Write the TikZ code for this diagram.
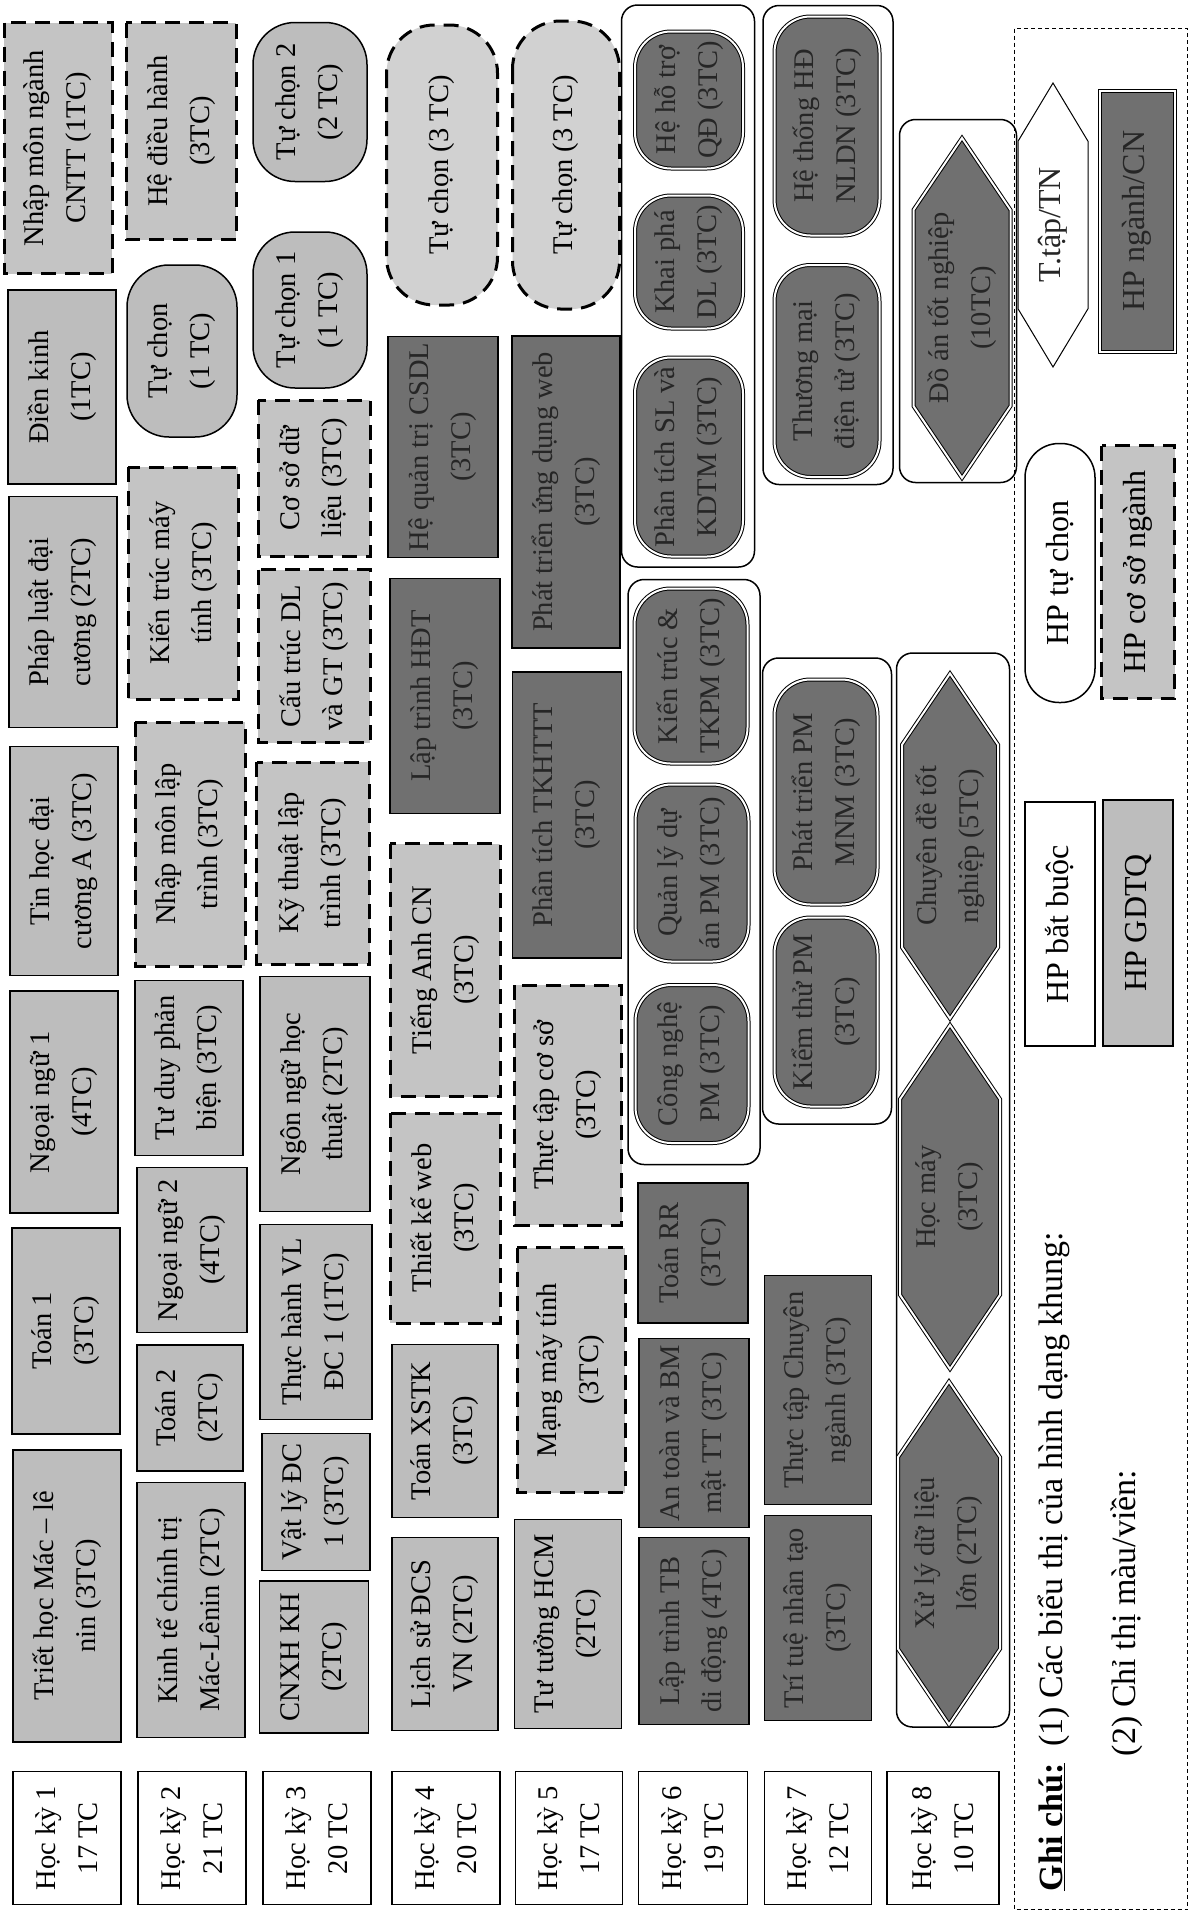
\documentclass[tikz,border=0pt]{standalone}
\usepackage{fontspec}
\setmainfont{Liberation Serif}
\usetikzlibrary{shapes.symbols}

\definecolor{gdtqgray}{gray}{0.74}
\definecolor{csngray}{gray}{0.77}
\definecolor{tcgray}{gray}{0.82}
\definecolor{nganhgray}{gray}{0.44}

\begin{document}
\begin{tikzpicture}[
  x=1pt, y=-1pt,
  every node/.style={rotate=90, align=center, inner sep=2pt, outer sep=0pt, font=\fontsize{28.5}{42}\selectfont},
  sz/.style 2 args={minimum width=#1, minimum height=#2},
  hocky/.style={rectangle, draw, line width=1.5pt, fill=white},
  gdtq/.style={rectangle, draw, line width=1.5pt, fill=gdtqgray},
  csn/.style={rectangle, draw, line width=3pt, dash pattern=on 15pt off 9pt, fill=csngray},
  nganh/.style={rectangle, draw, line width=1.5pt, fill=nganhgray, text=black!85},
  tuchon/.style={rectangle, draw, line width=1.5pt, rounded corners=42pt, fill=gdtqgray},
  tuchoncsn/.style={csn, rounded corners=48pt, fill=tcgray},
  tuchonnganh/.style={rectangle, draw, line width=1pt, double=white, double distance=2pt, rounded corners=36pt, fill=nganhgray, text=black!85},
  nhom/.style={rectangle, draw, line width=1.5pt, rounded corners=16pt, fill=white},
  tttn/.style={signal, signal to=east and west, signal pointer angle=68, draw, line width=1pt, double=white, double distance=2pt, fill=nganhgray, text=black!85},
  legend/.style={font=\fontsize{32}{38}\selectfont},
]
\path[use as bounding box, fill=white] (0,0) rectangle (1192,1928);

% === Hoc ky 1 ===
\node[csn, sz={251}{108}] (nmcntt) at (58,148) {Nhập môn ngành\\CNTT (1TC)};
\node[gdtq, sz={194}{108}] (dienkinh) at (62,387) {Điền kinh\\(1TC)};
\node[gdtq, sz={231}{108}] (phapluat) at (63,612) {Pháp luật đại\\cương (2TC)};
\node[gdtq, sz={229}{108}] (tinhoc) at (64,861) {Tin học đại\\cương A (3TC)};
\node[gdtq, sz={222}{108}] (ngoaingu1) at (64,1102) {Ngoại ngữ 1\\(4TC)};
\node[gdtq, sz={206}{108}] (toan1) at (66,1331) {Toán 1\\(3TC)};
\node[gdtq, sz={292}{108}] (triet) at (67,1596) {Triết học Mác – lê\\nin (3TC)};
\node[hocky, sz={133}{108}] (hk1) at (67,1838) {Học kỳ 1\\17 TC};

% === Hoc ky 2 ===
\node[csn, sz={217}{110}] (hdh) at (181,131) {Hệ điều hành\\(3TC)};
\node[tuchon, sz={172}{110}] (tuchonA) at (182,351) {Tự chọn\\(1 TC)};
\node[csn, sz={232}{110}] (ktmt) at (183,583) {Kiến trúc máy\\tính (3TC)};
\node[csn, sz={244}{110}] (nmlt) at (190,844) {Nhập môn lập\\trình (3TC)};
\node[gdtq, sz={175}{108}] (tdpb) at (189,1068) {Tư duy phản\\biện (3TC)};
\node[gdtq, sz={165}{110}] (ngoaingu2) at (192,1250) {Ngoại ngữ 2\\(4TC)};
\node[gdtq, sz={126}{106}] (toan2) at (190,1408) {Toán 2\\(2TC)};
\node[gdtq, sz={255}{108}] (ktct) at (191,1610) {Kinh tế chính trị\\Mác-Lênin (2TC)};
\node[hocky, sz={133}{108}] (hk2) at (192,1838) {Học kỳ 2\\21 TC};

% === Hoc ky 3 ===
\node[tuchon, sz={159}{114}] (tuchon2) at (310,102) {Tự chọn 2\\(2 TC)};
\node[tuchon, sz={156}{114}] (tuchon1) at (310,310) {Tự chọn 1\\(1 TC)};
\node[csn, sz={156}{112}] (csdl) at (314,478) {Cơ sở dữ\\liệu (3TC)};
\node[csn, sz={173}{112}] (ctdl) at (314,656) {Cấu trúc DL\\và GT (3TC)};
\node[csn, sz={202}{113}] (ktlt) at (313,863) {Kỹ thuật lập\\trình (3TC)};
\node[gdtq, sz={235}{110}] (nnht) at (315,1094) {Ngôn ngữ học\\thuật (2TC)};
\node[gdtq, sz={195}{112}] (thvl) at (316,1322) {Thực hành VL\\ĐC 1 (1TC)};
\node[gdtq, sz={137}{108}] (vldc) at (316,1502) {Vật lý ĐC\\1 (3TC)};
\node[gdtq, sz={152}{109}] (cnxh) at (314,1657) {CNXH KH\\(2TC)};
\node[hocky, sz={133}{108}] (hk3) at (317,1838) {Học kỳ 3\\20 TC};

% === Hoc ky 4 ===
\node[tuchoncsn, sz={280}{111}] (tuchonB) at (442,165) {Tự chọn (3 TC)};
\node[nganh, sz={221}{110}] (hqtcsdl) at (443,447) {Hệ quản trị CSDL\\(3TC)};
\node[nganh, sz={235}{110}] (lthdt) at (445,696) {Lập trình HĐT\\(3TC)};
\node[csn, sz={253}{110}] (tacn) at (445,970) {Tiếng Anh CN\\(3TC)};
\node[csn, sz={210}{110}] (tkweb) at (445,1218) {Thiết kế web\\(3TC)};
\node[gdtq, sz={173}{106}] (xstk) at (445,1431) {Toán XSTK\\(3TC)};
\node[gdtq, sz={193}{106}] (lsdcs) at (445,1634) {Lịch sử ĐCS\\VN (2TC)};
\node[hocky, sz={133}{108}] (hk4) at (446,1838) {Học kỳ 4\\20 TC};

% === Hoc ky 5 ===
\node[tuchoncsn, sz={288}{107}] (tuchonC) at (566,165) {Tự chọn (3 TC)};
\node[nganh, sz={312}{108}] (ptudweb) at (566,492) {Phát triển ứng dụng web\\(3TC)};
\node[nganh, sz={286}{109}] (pttk) at (567,815) {Phân tích TKHTTT\\(3TC)};
\node[csn, sz={240}{107}] (ttcs) at (568,1105) {Thực tập cơ sở\\(3TC)};
\node[csn, sz={245}{108}] (mmt) at (571,1370) {Mạng máy tính\\(3TC)};
\node[gdtq, sz={209}{107}] (tthcm) at (568,1624) {Tư tưởng HCM\\(2TC)};
\node[hocky, sz={133}{107}] (hk5) at (569,1838) {Học kỳ 5\\17 TC};

% === Hoc ky 6 ===
\node[nhom, sz={562}{133}] (nhomA) at (688,286) {};
\node[tuchonnganh, sz={137}{108}] (hhtqd) at (689,100) {Hệ hỗ trợ\\QĐ (3TC)};
\node[tuchonnganh, sz={133}{108}] (kpdl) at (689,262) {Khai phá\\DL (3TC)};
\node[tuchonnganh, sz={199}{108}] (ptsl) at (689,457) {Phân tích SL và\\KDTM (3TC)};
\node[nhom, sz={585}{132}] (nhomB) at (694,872) {};
\node[tuchonnganh, sz={175}{113}] (kttk) at (691,676) {Kiến trúc \&\\TKPM (3TC)};
\node[tuchonnganh, sz={177}{113}] (qlda) at (692,873) {Quản lý dự\\án PM (3TC)};
\node[tuchonnganh, sz={158}{113}] (cnpm) at (692,1064) {Công nghệ\\PM (3TC)};
\node[nganh, sz={140}{110}] (toanrr) at (693,1253) {Toán RR\\(3TC)};
\node[nganh, sz={189}{110}] (attt) at (694,1433) {An toàn và BM\\mật TT (3TC)};
\node[nganh, sz={187}{110}] (ltdd) at (694,1631) {Lập trình TB\\di động (4TC)};
\node[hocky, sz={133}{109}] (hk6) at (693,1838) {Học kỳ 6\\19 TC};

% === Hoc ky 7 ===
\node[nhom, sz={479}{130}] (nhomC) at (828,245) {};
\node[tuchonnganh, sz={219}{105}] (htnldn) at (827,126) {Hệ thống HĐ\\NLDN (3TC)};
\node[tuchonnganh, sz={212}{105}] (tmdt) at (827,371) {Thương mại\\điện tử (3TC)};
\node[nhom, sz={466}{129}] (nhomD) at (827,891) {};
\node[tuchonnganh, sz={225}{103}] (ptpm) at (826,792) {Phát triển PM\\MNM (3TC)};
\node[tuchonnganh, sz={189}{103}] (ktpm) at (826,1012) {Kiểm thử PM\\(3TC)};
\node[nganh, sz={229}{107}] (ttcn) at (818,1390) {Thực tập Chuyên\\ngành (3TC)};
\node[nganh, sz={205}{107}] (ttnt) at (818,1618) {Trí tuệ nhân tạo\\(3TC)};
\node[hocky, sz={133}{107}] (hk7) at (818,1838) {Học kỳ 7\\12 TC};

% === Hoc ky 8 ===
\node[nhom, sz={363}{117}] (nhomE) at (958,301) {};
\node[tttn, sz={340}{97}] (datn) at (962,308) {Đồ án tốt nghiệp\\(10TC)};
\node[nhom, sz={1074}{113}] (nhomF) at (953,1190) {};
\node[tttn, sz={345}{96}] (cdtn) at (950,846) {Chuyên đề tốt\\nghiệp (5TC)};
\node[tttn, sz={344}{100}] (hocmay) at (950,1197) {Học máy\\(3TC)};
\node[tttn, sz={343}{102}] (xldl) at (949,1553) {Xử lý dữ liệu\\lớn (2TC)};
\node[hocky, sz={133}{112}] (hk8) at (943,1838) {Học kỳ 8\\10 TC};

% === Ghi chu ===
\node[draw, line width=1.5pt, dash pattern=on 4pt off 3pt, sz={1881}{173}] (chuthich) at (1101,969) {};
\node[legend, font=\fontsize{34}{40}\selectfont, anchor=west] (ghichu) at (1054,1893) {\underline{\textbf{Ghi chú:}}\ \ (1) Các biểu thị của hình dạng khung:};
\node[legend, font=\fontsize{34}{40}\selectfont, anchor=west] (mauvien) at (1127,1758) {(2) Chỉ thị màu/viền:};
\node[legend, hocky, sz={244}{70}] (hpbb) at (1060,924) {HP bắt buộc};
\node[legend, gdtq, sz={246}{70}] (hpgdtq) at (1138,923) {HP GDTQ};
\node[legend, hocky, rounded corners=34pt, sz={259}{70}] (hptc) at (1060,573) {HP tự chọn};
\node[legend, csn, sz={253}{73}] (hpcsn) at (1138,572) {HP cơ sở ngành};
\node[legend, tttn, signal pointer angle=62, fill=white, double=none, sz={284}{70}] (tttnbox) at (1053,225) {T.tập/TN};
\node[legend, nganh, line width=1pt, double=white, double distance=2pt, sz={261}{75}] (hpnganh) at (1137,221) {HP ngành/CN};

\end{tikzpicture}
\end{document}
